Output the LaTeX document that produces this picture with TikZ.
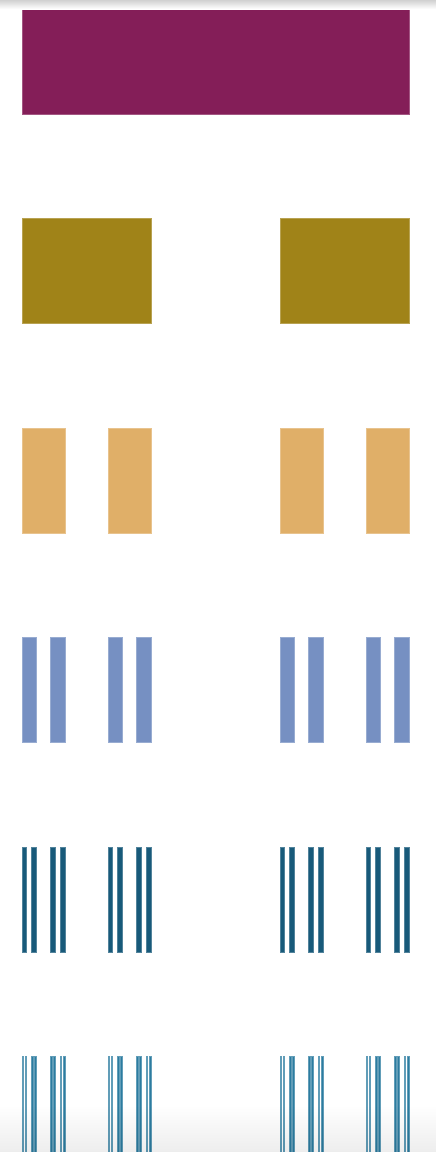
\documentclass[tikz,border=0pt]{standalone}
\usetikzlibrary{fadings}
\definecolor{c0}{RGB}{132,30,88}
\definecolor{c1}{RGB}{160,131,24}
\definecolor{c2}{RGB}{224,175,104}
\definecolor{c3}{RGB}{118,144,194}
\definecolor{c4}{RGB}{24,90,122}
\definecolor{c5}{RGB}{44,124,160}
\tikzset{cbar/.style={fill=#1,draw=#1!75,line width=0.9pt}}
\newcommand\cantorrow[4]{% levels left, x, width, y
  \ifnum#1=0\relax
    \path[cbar=\barcol] (#2,#4) rectangle ++(#3,105);
  \else
    \pgfmathsetmacro\cw{#3/3}%
    \pgfmathsetmacro\cx{#2+2*#3/3}%
    \edef\cnext{\noexpand\cantorrow{\the\numexpr#1-1\relax}{#2}{\cw}{#4}\noexpand\cantorrow{\the\numexpr#1-1\relax}{\cx}{\cw}{#4}}%
    \expandafter\cnext
  \fi}
\begin{document}
\begin{tikzpicture}[x=1pt,y=-1pt]
\useasboundingbox (0,0) rectangle (436,1152);
\clip (0,0) rectangle (436,1152);
\fill[white] (0,0) rectangle (436,1152);
\foreach \lvl/\yy in {0/9,1/218,2/428,3/637,4/847,5/1056}{
  \def\barcol{c\lvl}
  \cantorrow{\lvl}{22}{387}{\yy}
}
\shade[top color=black!18,bottom color=white] (0,0) rectangle (436,9);
\fill[black,opacity=0.07,path fading=north] (0,1105) rectangle (436,1152);
\end{tikzpicture}
\end{document}
